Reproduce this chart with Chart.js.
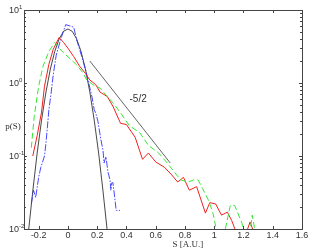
<!DOCTYPE html>
<html>
<head>
<meta charset="utf-8">
<script src="https://cdn.jsdelivr.net/npm/chart.js@4.4.1/dist/chart.umd.min.js"></script>
<style>
  html, body { margin: 0; padding: 0; background: #fff; }
  canvas { display: block; }
</style>
</head>
<body>
<canvas id="pdfChart" width="314" height="251"></canvas>
<script>
// ---- data ----
const blackX = [-0.27, -0.24, -0.21, -0.18, -0.15, -0.12, -0.09, -0.06, -0.03, 0.00, 0.03, 0.06, 0.09, 0.12, 0.15, 0.18, 0.21, 0.24, 0.27];
const blackY = [0.009, 0.033, 0.11, 0.31, 0.75, 1.55, 2.7, 4.0, 5.1, 5.5, 5.1, 4.0, 2.7, 1.55, 0.75, 0.31, 0.11, 0.033, 0.009];

const blueX = [-0.25, -0.235, -0.22, -0.20, -0.185, -0.16, -0.15, -0.14, -0.13, -0.115, -0.10, -0.08, -0.05, -0.015, 0.02, 0.04, 0.06, 0.095, 0.125, 0.165, 0.18, 0.19, 0.205, 0.225, 0.24, 0.247, 0.26, 0.274, 0.288, 0.294, 0.30, 0.308, 0.322, 0.33, 0.356];
const blueY = [0.022, 0.034, 0.027, 0.051, 0.07, 0.10, 0.15, 0.25, 0.43, 0.72, 1.3, 2.4, 3.9, 6.3, 6.0, 5.8, 3.9, 2.3, 1.4, 0.64, 0.43, 0.39, 0.30, 0.17, 0.12, 0.08, 0.098, 0.06, 0.047, 0.034, 0.043, 0.043, 0.025, 0.018, 0.018];

const redX = [-0.24, -0.21, -0.18, -0.16, -0.13, -0.10, -0.06, -0.03, 0.00, 0.04, 0.08, 0.12, 0.15, 0.19, 0.22, 0.27, 0.31, 0.36, 0.40, 0.46, 0.51, 0.55, 0.60, 0.66, 0.71, 0.75, 0.79, 0.83, 0.88, 0.94, 0.97, 1.01, 1.05, 1.09, 1.12, 1.15, 1.19, 1.245, 1.29];
const redY = [0.10, 0.19, 0.40, 0.9, 1.8, 2.9, 4.2, 3.6, 3.0, 2.3, 1.7, 1.35, 1.1, 0.95, 0.75, 0.65, 0.47, 0.28, 0.27, 0.18, 0.09, 0.11, 0.083, 0.07, 0.055, 0.044, 0.051, 0.034, 0.038, 0.0165, 0.023, 0.022, 0.0155, 0.017, 0.013, 0.009, 0.006, 0.0125, 0.007];

const greenX = [-0.25, -0.23, -0.20, -0.17, -0.13, -0.09, -0.06, -0.03, 0.02, 0.06, 0.10, 0.13, 0.17, 0.22, 0.27, 0.31, 0.36, 0.42, 0.49, 0.55, 0.62, 0.66, 0.70, 0.77, 0.82, 0.86, 0.89, 0.92, 0.96, 0.99, 1.03, 1.06, 1.11, 1.14, 1.19, 1.21, 1.24, 1.26, 1.29];
const greenY = [0.13, 0.35, 0.9, 1.7, 2.7, 3.6, 3.0, 2.6, 2.1, 1.77, 1.4, 1.1, 0.95, 0.85, 0.65, 0.53, 0.39, 0.26, 0.21, 0.14, 0.11, 0.089, 0.071, 0.047, 0.044, 0.047, 0.047, 0.036, 0.025, 0.017, 0.007, 0.007, 0.021, 0.021, 0.012, 0.007, 0.008, 0.0155, 0.007];

// reference slope line (-5/2)
const slopeX = [0.15, 0.70];
const slopeY = [2.0, 0.08];

const xTicks = [-0.2, 0, 0.2, 0.4, 0.6, 0.8, 1, 1.2, 1.4, 1.6];
const xTickLabels = ['-0.2', '0', '0.2', '0.4', '0.6', '0.8', '1', '1.2', '1.4', '1.6'];
const yTicks = [0.01, 0.1, 1, 10];
const yTickExp = ['-2', '-1', '0', '1'];

const toPts = (xs, ys) => xs.map((x, i) => ({ x: x, y: ys[i] }));

// draws the matlab-style box, inward ticks and labels
const axesBox = {
    id: 'axesBox',
    afterDraw(chart) {
        const ctx = chart.ctx;
        const a = chart.chartArea;
        const xs = chart.scales.x, ys = chart.scales.y;
        ctx.save();
        ctx.strokeStyle = '#444';
        ctx.lineWidth = 1;
        ctx.strokeRect(Math.round(a.left) + 0.5, Math.round(a.top) + 0.5, Math.round(a.right - a.left), Math.round(a.bottom - a.top));

        ctx.beginPath();
        xTicks.forEach(v => {
            const px = Math.round(xs.getPixelForValue(v)) + 0.5;
            ctx.moveTo(px, a.bottom); ctx.lineTo(px, a.bottom - 3);
            ctx.moveTo(px, a.top); ctx.lineTo(px, a.top + 3);
        });
        yTicks.forEach((v, i) => {
            const py = Math.round(ys.getPixelForValue(v)) + 0.5;
            ctx.moveTo(a.left, py); ctx.lineTo(a.left + 3, py);
            ctx.moveTo(a.right, py); ctx.lineTo(a.right - 3, py);
            if (i < yTicks.length - 1) {
                for (let m = 2; m <= 9; m++) {
                    const pm = Math.round(ys.getPixelForValue(v * m)) + 0.5;
                    ctx.moveTo(a.left, pm); ctx.lineTo(a.left + 2, pm);
                    ctx.moveTo(a.right, pm); ctx.lineTo(a.right - 2, pm);
                }
            }
        });
        ctx.stroke();

        ctx.fillStyle = '#333';
        ctx.font = '9px "Liberation Sans", sans-serif';
        ctx.textAlign = 'center';
        ctx.textBaseline = 'middle';
        xTicks.forEach((v, i) => {
            ctx.fillText(xTickLabels[i], xs.getPixelForValue(v), a.bottom + 7);
        });
        yTicks.forEach((v, i) => {
            const py = ys.getPixelForValue(v);
            ctx.font = '9px "Liberation Sans", sans-serif';
            ctx.textAlign = 'right';
            ctx.fillText('10', a.left - 5, py + 1);
            ctx.font = '6px "Liberation Sans", sans-serif';
            ctx.textAlign = 'left';
            ctx.fillText(yTickExp[i], a.left - 5, py - 3);
        });

        ctx.font = '9px "Liberation Serif", serif';
        ctx.textAlign = 'center';
        ctx.fillText('S [A.U.]', xs.getPixelForValue(0.82), a.bottom + 16);
        ctx.fillText('p(S)', 13, 127);

        ctx.font = '10px "Liberation Sans", sans-serif';
        ctx.fillText('-5/2', xs.getPixelForValue(0.48), ys.getPixelForValue(0.6));
        ctx.restore();
    }
};

const lineSet = (pts, color, width, dash) => ({
    data: pts,
    showLine: true,
    borderColor: color,
    borderWidth: width,
    borderDash: dash || [],
    pointRadius: 0,
    fill: false,
    tension: 0,
    clip: 0
});

new Chart(document.getElementById('pdfChart'), {
    type: 'scatter',
    data: {
        datasets: [
            lineSet(toPts(slopeX, slopeY), '#555', 0.9),
            lineSet(toPts(greenX, greenY), '#33e833', 1, [6, 3]),
            lineSet(toPts(redX, redY), '#f02020', 1),
            lineSet(toPts(blueX, blueY), '#3333ff', 0.9, [7, 1.5, 1.5, 1.5]),
            lineSet(toPts(blackX, blackY), '#333', 0.9)
        ]
    },
    options: {
        responsive: false,
        animation: false,
        layout: { padding: { left: 24, top: 10, right: 12, bottom: 22 } },
        plugins: { legend: { display: false }, tooltip: { enabled: false } },
        scales: {
            x: { type: 'linear', min: -0.3, max: 1.6, display: false },
            y: { type: 'logarithmic', min: 0.01, max: 10, display: false }
        }
    },
    plugins: [axesBox]
});
</script>
</body>
</html>
